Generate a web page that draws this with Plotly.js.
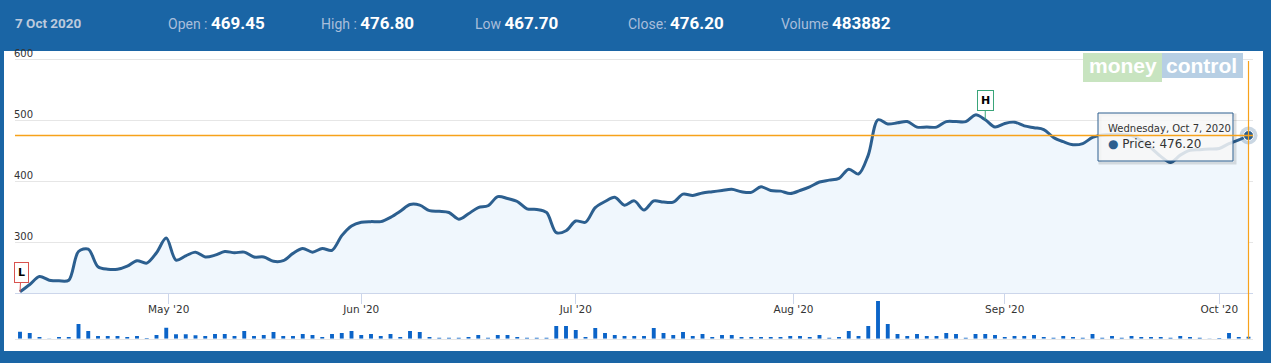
<!DOCTYPE html>
<html>
<head>
<meta charset="utf-8">
<script src="https://cdn.plot.ly/plotly-3.0.1.min.js"></script>
<style>
html,body{margin:0;padding:0;background:#1a65a5;overflow:hidden;}
#chart{width:1271px;height:363px;}
</style>
</head>
<body>
<div id="chart"></div>
<script>
// ---------------- DATA ----------------
// Trading days (NSE) per month, 2020
const aprDays = [7,8,9,13,15,16,17,20,21,22,23,24,27,28,29,30];
const mayDays = [4,5,6,7,8,11,12,13,14,15,18,19,20,21,22,26,27,28,29];
const junDays = [1,2,3,4,5,8,9,10,11,12,15,16,17,18,19,22,23,24,25,26,29,30];
const julDays = [1,2,3,6,7,8,9,10,13,14,15,16,17,20,21,22,23,24,27,28,29,30,31];
const augDays = [3,4,5,6,7,10,11,12,13,14,17,18,19,20,21,24,25,26,27,28,31];
const sepDays = [1,2,3,4,7,8,9,10,11,14,15,16,17,18,21,22,23,24,25,28,29,30];
const octDays = [1,5,6,7];

// Closing price per trading day
const prices = [
 220,232,245,239,238,239,286,290,261,257,
 257,262,271,267,284,308,272,279,285,277,
 280,286,284,285,277,277,270,271,283,291,
 285,291,288,312,328,334,335,335,342,352,
 363,362,353,352,350,339,348,358,361,376,
 373,368,356,355,350,317,320,336,334,358,
 368,375,362,369,354,369,367,367,380,378,
 382,384,386,388,384,383,392,386,385,381,
 386,392,400,403,406,421,413,444,502,495,
 497,499,490,490,490,499,499,499,510,502,
 490,496,498,492,489,486,473,466,461,463,
 473,477,478,478,476,468,456,442,432,444,
 452,453,454,455,463,469,476.20
];

// Volume per trading day
const volumes = [
 1680000,1360000,400000,50000,400000,400000,3520000,1840000,640000,640000,
 640000,400000,640000,160000,880000,2640000,1040000,1040000,800000,640000,
 1120000,1120000,640000,1840000,640000,880000,1600000,640000,640000,1120000,
 880000,400000,1120000,1360000,1840000,880000,1120000,640000,1120000,400000,
 1840000,1600000,400000,240000,240000,240000,400000,880000,240000,880000,
 880000,400000,240000,240000,240000,3040000,3040000,2080000,400000,2560000,
 1360000,880000,640000,640000,640000,2560000,1360000,880000,1600000,640000,
 1120000,400000,880000,880000,400000,400000,400000,400000,400000,640000,
 640000,400000,880000,240000,400000,1840000,640000,3040000,9040000,3520000,
 1120000,640000,1120000,640000,640000,1360000,1120000,240000,1120000,1120000,
 880000,400000,640000,640000,880000,400000,240000,640000,400000,240000,
 1120000,240000,640000,240000,640000,400000,400000,400000,240000,640000,
 400000,240000,50000,160000,1360000,400000,483882
];

const tickMonths = ['2020-05-01','2020-06-01','2020-07-01','2020-08-01','2020-09-01','2020-10-01'];
const tickLabels = ["May '20","Jun '20","Jul '20","Aug '20","Sep '20","Oct '20"];
const priceTicks = [300,400,500,600];

const statLabels = ['Open :','High :','Low','Close:','Volume'];
const statValues = ['469.45','476.80','467.70'];
const headerDate = '7 Oct 2020';

const flagHighDate = '2020-08-28';
const flagLowDate = '2020-04-07';

// ---------------- BUILD ----------------
const W = 1271, H = 363;
const px = x => x / W;
const py = y => (H - y) / H;

const monthLists = [[3,aprDays],[4,mayDays],[5,junDays],[6,julDays],[7,augDays],[8,sepDays],[9,octDays]];
const dates = [];
monthLists.forEach(([m, days]) => days.forEach(d => dates.push(new Date(Date.UTC(2020, m, d)))));
const idx = dates.map((_, i) => i);
const last = dates.length - 1;

// ordinal-axis tick positions (interpolated between trading days)
const tickvals = tickMonths.map(s => {
  const t = new Date(s + 'T00:00:00Z').getTime();
  for (let i = 0; i < dates.length - 1; i++) {
    const a = dates[i].getTime(), b = dates[i+1].getTime();
    if (t >= a && t < b) return i + (t - a) / (b - a);
  }
  return last;
});

const iso = d => d.toISOString().slice(0,10);
const hiIdx = dates.findIndex(d => iso(d) === flagHighDate);
const loIdx = dates.findIndex(d => iso(d) === flagLowDate);

const wd = ['Sunday','Monday','Tuesday','Wednesday','Thursday','Friday','Saturday'];
const mn = ['Jan','Feb','Mar','Apr','May','Jun','Jul','Aug','Sep','Oct','Nov','Dec'];
const ld = dates[last];
const tipDate = `${wd[ld.getUTCDay()]}, ${mn[ld.getUTCMonth()]} ${ld.getUTCDate()}, ${ld.getUTCFullYear()}`;
const closeVal = prices[last];

const lineColor = '#2c5f8f';
const orange = '#f7a21b';
const headerBlue = '#1a65a5';
const xRange = [-0.513, 126.46];

const traces = [
  {
    x: idx, y: prices, type: 'scatter', mode: 'lines',
    line: {color: lineColor, width: 3, shape: 'spline', smoothing: 0.9},
    fill: 'tozeroy', fillcolor: '#f0f7fd',
    hoverinfo: 'skip', xaxis: 'x', yaxis: 'y'
  },
  {
    x: idx, y: volumes, type: 'bar', width: 0.4,
    marker: {color: '#0b64c8', line: {width: 0}},
    hoverinfo: 'skip', xaxis: 'x2', yaxis: 'y2'
  },
  {
    x: [last], y: [closeVal], type: 'scatter', mode: 'markers',
    marker: {size: 18, color: 'rgba(44,95,143,0.25)'},
    hoverinfo: 'skip', xaxis: 'x', yaxis: 'y', cliponaxis: false
  },
  {
    x: [last], y: [closeVal], type: 'scatter', mode: 'markers',
    marker: {size: 10, color: lineColor, line: {color: '#ffffff', width: 1}},
    hoverinfo: 'skip', xaxis: 'x', yaxis: 'y', cliponaxis: false
  }
];

const shapes = [
  // white chart panel
  {type:'rect', xref:'paper', yref:'paper', x0:px(4), x1:px(1263), y0:py(351), y1:py(51),
   fillcolor:'#ffffff', line:{width:0}, layer:'below'},
  // logo backgrounds
  {type:'rect', xref:'paper', yref:'paper', x0:px(1083), x1:px(1162), y0:py(82), y1:py(53),
   fillcolor:'#c8e4c0', line:{width:0}, layer:'above'},
  {type:'rect', xref:'paper', yref:'paper', x0:px(1162), x1:px(1243), y0:py(78), y1:py(53),
   fillcolor:'#b7cfe4', line:{width:0}, layer:'above'},
  // tooltip shadow and box
  {type:'rect', xref:'paper', yref:'paper', x0:px(1100), x1:px(1235), y0:py(163), y1:py(115),
   fillcolor:'rgba(0,0,0,0)', line:{color:'rgba(0,0,0,0.12)', width:3}, layer:'above'},
  {type:'rect', xref:'paper', yref:'paper', x0:px(1098), x1:px(1233), y0:py(161), y1:py(113),
   fillcolor:'rgba(247,247,247,0.85)', line:{color:lineColor, width:1}, layer:'above'},
  // crosshairs
  {type:'line', xref:'x', yref:'y', x0:xRange[0], x1:xRange[1], y0:closeVal, y1:closeVal,
   line:{color:orange, width:1.4}, layer:'above'},
  {type:'line', xref:'x', yref:'paper', x0:last, x1:last, y0:py(339), y1:py(61),
   line:{color:orange, width:1.2}, layer:'above'}
];

const annotations = [];
// header
annotations.push({
  xref:'paper', yref:'paper', x:px(13), y:py(23), xanchor:'left', yanchor:'middle',
  text:'<b>' + headerDate + '</b>', showarrow:false,
  font:{family:'Roboto', size:13.5, color:'#bccadd'}
});
const statVals = statValues.concat([closeVal.toFixed(2), String(volumes[last])]);
statLabels.forEach((lab, i) => {
  annotations.push({
    xref:'paper', yref:'paper', x:px(166 + i*153.25), y:py(23), xanchor:'left', yanchor:'middle',
    showarrow:false,
    text:'<span style="font-size:14px;color:#a9bedb;font-weight:normal">' + lab + ' </span><b>' + statVals[i] + '</b>',
    font:{family:'Roboto', size:17, color:'#ffffff'}
  });
});
// logo
annotations.push({xref:'paper', yref:'paper', x:px(1123), y:py(65.5), xanchor:'center', yanchor:'middle',
  text:'<b>money</b>', showarrow:false, font:{family:'Liberation Sans', size:21, color:'#ffffff'}});
annotations.push({xref:'paper', yref:'paper', x:px(1201), y:py(65), xanchor:'center', yanchor:'middle',
  text:'<b>control</b>', showarrow:false, font:{family:'Liberation Sans', size:21, color:'#ffffff'}});
// flags
annotations.push({
  xref:'x', yref:'y', x:hiIdx, y:prices[hiIdx], text:'<b>H</b>',
  showarrow:true, arrowhead:0, arrowwidth:1, arrowcolor:'#3aa57a', ax:0, ay:-19,
  bordercolor:'#3aa57a', borderwidth:1, borderpad:3, bgcolor:'#ffffff',
  font:{family:'DejaVu Sans', size:11, color:'#000000'}
});
annotations.push({
  xref:'x', yref:'y', x:loIdx, y:prices[loIdx], text:'<b>L</b>',
  showarrow:true, arrowhead:0, arrowwidth:1, arrowcolor:'#d9534f', ax:1, ay:-19,
  bordercolor:'#d9534f', borderwidth:1, borderpad:3, bgcolor:'#ffffff',
  font:{family:'DejaVu Sans', size:11, color:'#000000'}
});
// tooltip text
annotations.push({
  xref:'paper', yref:'paper', x:px(1106), y:py(136.5), xanchor:'left', yanchor:'middle', align:'left',
  showarrow:false,
  text:'<span style="font-size:10px">' + tipDate + '</span><br><span style="color:' + lineColor + '">●</span> Price: ' + closeVal.toFixed(2),
  font:{family:'DejaVu Sans', size:12, color:'#333333'}
});

const layout = {
  width: W, height: H,
  margin: {l:0, r:0, t:0, b:0},
  paper_bgcolor: headerBlue,
  plot_bgcolor: 'rgba(0,0,0,0)',
  showlegend: false,
  hovermode: false,
  xaxis: {
    domain:[px(15), px(1253)], range:xRange, anchor:'y',
    tickmode:'array', tickvals: tickvals, ticktext: tickLabels,
    ticks:'outside', ticklen:10, tickcolor:'#ccd6eb', tickwidth:1,
    ticklabelstandoff:-4,
    showline:true, linecolor:'#ccd6eb', linewidth:1,
    showgrid:false, zeroline:false, fixedrange:true,
    tickfont:{family:'DejaVu Sans', size:10.5, color:'#333333'}
  },
  yaxis: {
    domain:[py(293), py(44)], range:[218, 626.2], anchor:'x',
    tickmode:'array', tickvals: priceTicks,
    showgrid:true, gridcolor:'#e6e6e6', gridwidth:1, zeroline:false, showline:false,
    ticks:'', ticklabelposition:'inside', ticklabelshift:-6, ticklabelstandoff:-4, fixedrange:true,
    tickfont:{family:'DejaVu Sans', size:10, color:'#333333'}
  },
  xaxis2: {
    domain:[px(15), px(1253)], range:xRange, anchor:'y2',
    showticklabels:false, ticks:'', showgrid:false, zeroline:false,
    showline:true, linecolor:'#e6e6e6', linewidth:1, fixedrange:true
  },
  yaxis2: {
    domain:[py(338.7), py(300)], range:[0, 9280000], anchor:'x2',
    visible:false, fixedrange:true
  },
  shapes: shapes,
  annotations: annotations
};

Plotly.newPlot('chart', traces, layout, {displayModeBar:false, staticPlot:true});
</script>
</body>
</html>
